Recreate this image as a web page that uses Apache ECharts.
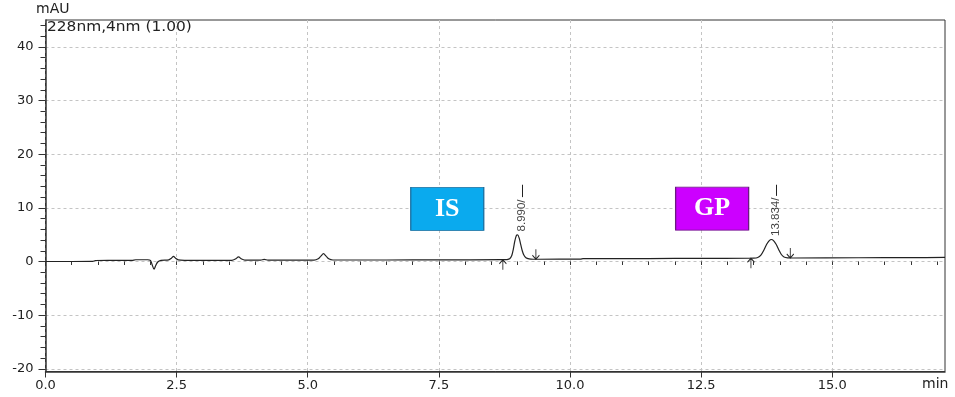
<!DOCTYPE html>
<html>
<head>
<meta charset="utf-8">
<script src="https://cdn.jsdelivr.net/npm/echarts@6/dist/echarts.min.js"></script>
<style>html,body{margin:0;padding:0;background:#fff}#c{width:955px;height:397px}</style>
</head>
<body>
<div id="c"></div>
<script>
// ---- data ----
const traceTime = [
  0, 0.5, 0.9, 0.95, 1.3, 1.65, 1.72, 1.95, 2.0, 2.03, 2.07, 2.1, 2.14, 2.2, 2.35, 2.4, 2.44, 2.48, 2.53, 2.65,
  3.55, 3.62, 3.68, 3.74, 3.8, 4.1, 4.17, 4.24, 5.12, 5.2, 5.25, 5.3, 5.35, 5.4, 5.48, 6.5, 7.5,
  8.7, 8.8, 8.85, 8.89, 8.92, 8.95, 8.98, 9.0, 9.03, 9.06, 9.09, 9.12, 9.16, 9.22, 9.3, 9.4,
  10.2, 10.25, 11.5, 12.5, 13.4, 13.5, 13.58, 13.64, 13.7, 13.75, 13.8, 13.84, 13.88, 13.93, 13.98, 14.03, 14.08, 14.15, 14.25,
  15.5, 16.5, 17.15
];
const traceSignal = [
  0.0, 0.0, 0.02, 0.18, 0.2, 0.22, 0.32, 0.32, 0.2, -0.5, -1.45, -0.8, -0.1, 0.2, 0.3, 0.6, 0.95, 0.6, 0.3, 0.22,
  0.22, 0.45, 0.85, 0.45, 0.25, 0.25, 0.4, 0.25, 0.25, 0.5, 1.0, 1.45, 1.0, 0.5, 0.28, 0.28, 0.3,
  0.33, 0.36, 0.5, 1.1, 2.3, 3.9, 4.9, 4.95, 4.4, 3.2, 2.0, 1.2, 0.7, 0.48, 0.42, 0.42,
  0.45, 0.52, 0.55, 0.58, 0.6, 0.62, 0.75, 1.2, 2.2, 3.2, 3.9, 4.1, 3.9, 3.2, 2.2, 1.3, 0.85, 0.68, 0.65,
  0.7, 0.72, 0.75
];
const peakLabels = ['8.990', '13.834'];
const peakTime = [8.99, 13.834];
const peakHeight = [4.95, 4.1];
const peakStartTime = [8.72, 13.45];
const peakStartLevel = [0.33, 0.61];
const peakEndTime = [9.35, 14.2];
const peakEndLevel = [0.42, 0.66];
const compoundNames = ['IS', 'GP'];
const compoundTime = [7.66, 12.71];
const compoundLevel = [9.8, 9.84];
const xTickValues = [0, 2.5, 5, 7.5, 10, 12.5, 15];
const yTickValues = [-20, -10, 0, 10, 20, 30, 40];
const xMinorTicks = [];
for (let i = 0; i <= 34; i++) xMinorTicks.push(i * 0.5);
const yMinorTicks = [];
for (let v = -20; v <= 44; v += 2) yMinorTicks.push(v);

// ---- chart ----
const X_MIN = 0, X_MAX = 17.15, Y_MIN = -20.5, Y_MAX = 45;
const compoundColors = ['#0aaaee', '#cc00ff'];
const compoundBorders = ['#1a6fa0', '#6a1a80'];
const labelShift = 0.1;
const unitsPerPx = (Y_MAX - Y_MIN) / 351.5;

const traceData = traceTime.map((t, i) => [t, traceSignal[i]]);
const labelData = peakTime.map((t, i) => ({ value: [t + labelShift, peakHeight[i]], name: peakLabels[i] + '/' }));
const labelLines = peakTime.map((t, i) => {
  const textLen = (peakLabels[i].length + 1) * 5.8;
  const bottom = peakHeight[i] + (3 + textLen) * unitsPerPx;
  return [{ coord: [t + labelShift, bottom] }, { coord: [t + labelShift, 14.3] }];
});
const startArrows = peakStartTime.map((t, i) => [t, peakStartLevel[i]]);
const endArrows = peakEndTime.map((t, i) => [t, peakEndLevel[i]]);
const boxData = compoundNames.map((n, i) => ({
  value: [compoundTime[i], compoundLevel[i]], name: n,
  itemStyle: { color: compoundColors[i], borderColor: compoundBorders[i], borderWidth: 1, opacity: 1 }
}));

const axisFont = { fontFamily: 'DejaVu Sans', fontSize: 13, color: '#222' };
const chart = echarts.init(document.getElementById('c'));
chart.setOption({
  animation: false,
  grid: { left: 45.5, right: 10, top: 20, bottom: 25.5, show: true, borderColor: '#333', borderWidth: 1, containLabel: false },
  xAxis: [
    {
      type: 'value', min: X_MIN, max: X_MAX, position: 'bottom',
      axisLine: { show: true, onZero: false, lineStyle: { color: '#333', width: 1.5 } },
      axisTick: { show: true, customValues: xTickValues, length: 6, lineStyle: { color: '#333' } },
      axisLabel: { customValues: xTickValues, margin: 8, formatter: v => v.toFixed(1), ...axisFont },
      splitLine: { show: true, lineStyle: { color: '#c4c4c4', type: [3, 3], width: 1 } }
    },
    {
      type: 'value', min: X_MIN, max: X_MAX, position: 'bottom',
      axisLine: { show: false },
      axisTick: { show: true, customValues: xMinorTicks, length: 3.5, lineStyle: { color: '#333' } },
      axisLabel: { show: false }, splitLine: { show: false }
    }
  ],
  yAxis: [
    {
      type: 'value', min: Y_MIN, max: Y_MAX, position: 'left',
      axisLine: { show: true, onZero: false, lineStyle: { color: '#333', width: 1.5 } },
      axisTick: { show: true, customValues: yTickValues, length: 7, lineStyle: { color: '#333' } },
      axisLabel: { customValues: yTickValues, margin: 12, ...axisFont },
      splitLine: { show: true, lineStyle: { color: '#c4c4c4', type: [3, 3], width: 1 } }
    },
    {
      type: 'value', min: Y_MIN, max: Y_MAX, position: 'left',
      axisLine: { show: false },
      axisTick: { show: true, customValues: yMinorTicks, length: 5, lineStyle: { color: '#333' } },
      axisLabel: { show: false }, splitLine: { show: false }
    }
  ],
  graphic: [
    { type: 'text', left: 36, top: 2, style: { text: 'mAU', fontFamily: 'DejaVu Sans', fontSize: 14, fill: '#222' } },
    { type: 'text', left: 47, top: 20, scaleX: 1.1, style: { text: '228nm,4nm (1.00)', fontFamily: 'DejaVu Sans', fontSize: 14, fill: '#222' } },
    { type: 'text', left: 922, top: 377, style: { text: 'min', fontFamily: 'DejaVu Sans', fontSize: 14, fill: '#222' } }
  ],
  series: [
    {
      type: 'line', name: 'trace', data: traceData, showSymbol: false, smooth: 0.3,
      lineStyle: { color: '#222', width: 1.2 }, z: 3, silent: true
    },
    {
      type: 'scatter', name: 'rt', data: labelData, symbolSize: 1, itemStyle: { color: 'transparent' }, silent: true,
      label: {
        show: true, formatter: p => p.name, position: 'top', distance: 3, rotate: 90,
        align: 'left', verticalAlign: 'middle', fontFamily: 'Liberation Sans', fontSize: 11.5, color: '#111'
      },
      markLine: { symbol: 'none', silent: true, label: { show: false }, lineStyle: { color: '#222', width: 1, type: 'solid' }, data: labelLines },
      z: 4
    },
    {
      type: 'scatter', name: 'start', data: startArrows, silent: true,
      symbol: 'path://M4,0 L4,10 M0,4 L4,0 L8,4', symbolSize: [7, 10], symbolOffset: [0, 5],
      itemStyle: { color: 'transparent', borderColor: '#222', borderWidth: 1, opacity: 1 }, z: 4
    },
    {
      type: 'scatter', name: 'end', data: endArrows, silent: true,
      symbol: 'path://M4,0 L4,10 M0,6 L4,10 L8,6', symbolSize: [7, 10], symbolOffset: [0, -5],
      itemStyle: { color: 'transparent', borderColor: '#222', borderWidth: 1, opacity: 1 }, z: 4
    },
    {
      type: 'scatter', name: 'compounds', data: boxData, symbol: 'rect', symbolSize: [73, 43], silent: true,
      label: {
        show: true, position: 'inside', formatter: p => p.name,
        fontFamily: 'Liberation Serif', fontWeight: 'bold', fontSize: 26, color: '#fff'
      },
      z: 5
    }
  ]
});
</script>
</body>
</html>
